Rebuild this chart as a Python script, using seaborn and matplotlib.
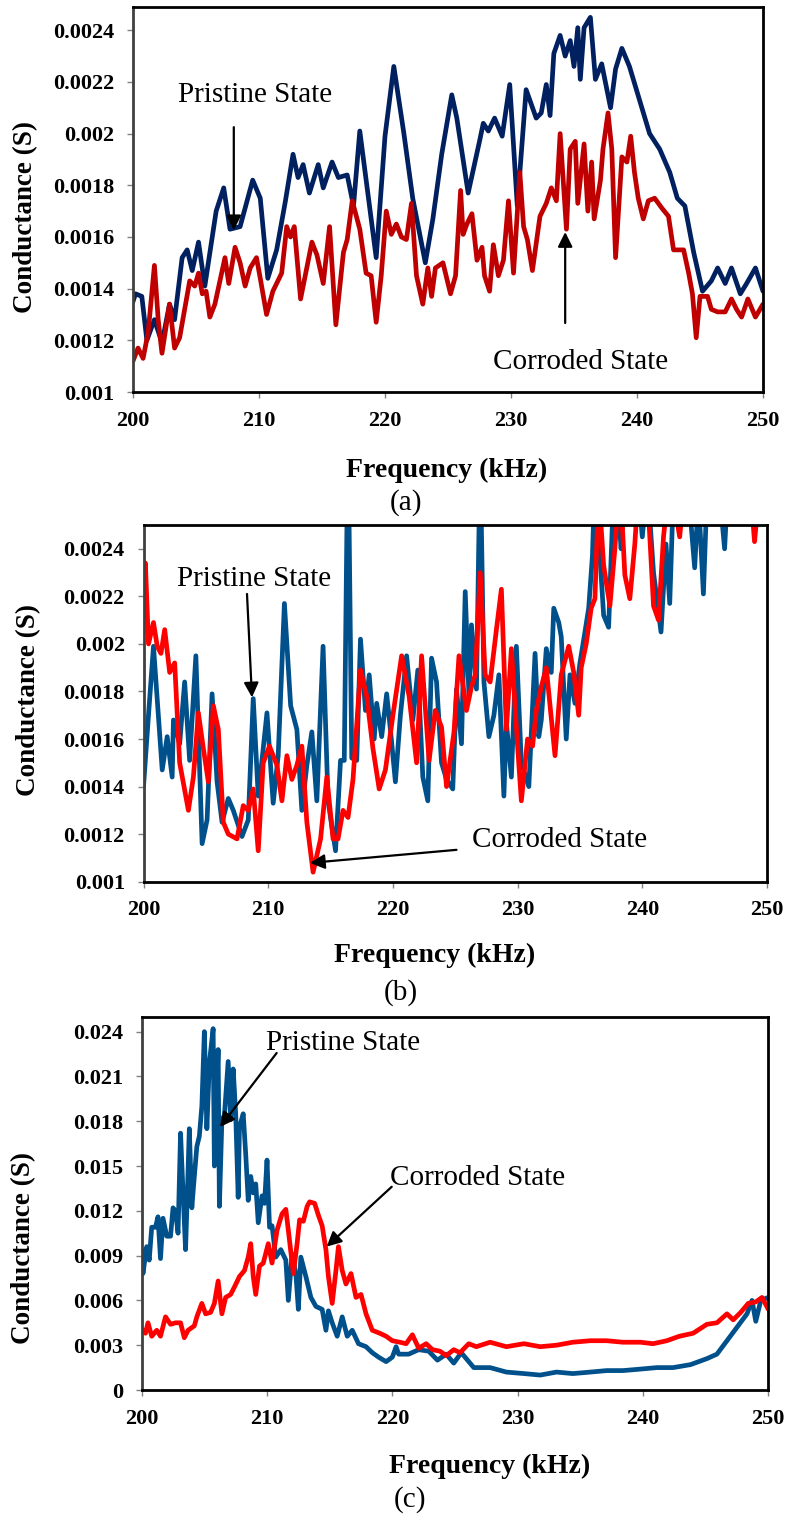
import numpy as np
import pandas as pd
import matplotlib
matplotlib.use("Agg")
import matplotlib.pyplot as plt
import seaborn as sns

# ---- (a) ----
a_pristine_f = [200.0, 200.2, 200.7, 201.1, 201.7, 202.3, 202.9, 203.3, 203.9, 204.3,
                204.7, 205.2, 205.7, 206.6, 207.2, 207.7, 208.5, 209.5, 210.1, 210.7,
                211.4, 212.1, 212.7, 213.1, 213.5, 214.0, 214.7, 215.1, 215.8, 216.3,
                217.0, 217.5, 218.0, 219.3, 220.0, 220.7, 221.5, 222.2, 223.2, 223.8,
                224.5, 225.3, 225.7, 226.6, 227.5, 227.8, 228.2, 228.7, 229.3, 229.9,
                230.5, 231.2, 232.0, 232.4, 232.8, 233.1, 233.4, 233.9, 234.3, 234.7,
                235.0, 235.3, 235.5, 235.8, 236.3, 236.7, 237.2, 237.9, 238.3, 238.8,
                239.4, 240.2, 241.0, 241.8, 242.6, 243.2, 243.8, 244.5, 245.2, 245.9,
                246.4, 247.0, 247.5, 248.2, 248.7, 249.4, 250.0]
a_pristine_g = [0.00135, 0.00138, 0.00137, 0.00120, 0.00128, 0.00119, 0.00134, 0.00128, 0.00152, 0.00155,
                0.00147, 0.00158, 0.00141, 0.00170, 0.00179, 0.00163, 0.00164, 0.00182, 0.00175, 0.00144,
                0.00155, 0.00174, 0.00192, 0.00183, 0.00188, 0.00177, 0.00188, 0.00179, 0.00189, 0.00183,
                0.00184, 0.00172, 0.00201, 0.00152, 0.00199, 0.00226, 0.00200, 0.00175, 0.00150, 0.00167,
                0.00192, 0.00215, 0.00206, 0.00177, 0.00197, 0.00204, 0.00201, 0.00206, 0.00199, 0.00219,
                0.00172, 0.00217, 0.00206, 0.00208, 0.00219, 0.00207, 0.00231, 0.00238, 0.00230, 0.00236,
                0.00226, 0.00241, 0.00221, 0.00241, 0.00245, 0.00221, 0.00227, 0.00210, 0.00225, 0.00233,
                0.00226, 0.00213, 0.00200, 0.00194, 0.00185, 0.00175, 0.00172, 0.00154, 0.00139, 0.00143,
                0.00148, 0.00142, 0.00148, 0.00138, 0.00142, 0.00148, 0.00139]
a_corroded_f = [200.0, 200.4, 200.8, 201.2, 201.7, 202.0, 202.3, 202.9, 203.3, 203.7,
                204.1, 204.5, 204.9, 205.2, 205.5, 205.8, 206.1, 206.5, 206.9, 207.3,
                207.6, 208.1, 208.5, 208.9, 209.3, 209.8, 210.1, 210.6, 211.1, 211.8,
                212.2, 212.5, 212.8, 213.3, 214.2, 214.6, 215.1, 215.6, 216.1, 216.7,
                217.0, 217.4, 218.0, 218.5, 218.9, 219.3, 219.7, 220.1, 220.5, 220.9,
                221.3, 221.7, 222.1, 222.5, 223.0, 223.4, 223.7, 224.0, 224.6, 225.2,
                225.6, 226.0, 226.2, 226.5, 226.9, 227.3, 227.7, 227.9, 228.3, 228.6,
                229.0, 229.4, 229.8, 230.2, 230.7, 231.0, 231.3, 231.7, 232.3, 232.8,
                233.2, 233.6, 233.9, 234.4, 234.7, 235.1, 235.3, 235.8, 236.1, 236.4,
                236.6, 237.1, 237.3, 237.7, 238.0, 238.3, 238.8, 239.2, 239.5, 239.8,
                240.1, 240.5, 240.9, 241.4, 242.0, 242.5, 242.9, 243.7, 244.1, 244.4,
                244.7, 245.0, 245.6, 245.9, 246.4, 247.0, 247.5, 247.9, 248.3, 248.8,
                249.4, 250.0]
a_corroded_g = [0.00112, 0.00117, 0.00113, 0.00123, 0.00149, 0.00128, 0.00115, 0.00134, 0.00117, 0.00121,
                0.00132, 0.00143, 0.00141, 0.00146, 0.00138, 0.00139, 0.00129, 0.00134, 0.00143, 0.00152,
                0.00142, 0.00156, 0.00150, 0.00141, 0.00148, 0.00152, 0.00144, 0.00130, 0.00139, 0.00146,
                0.00164, 0.00160, 0.00164, 0.00136, 0.00158, 0.00153, 0.00142, 0.00164, 0.00126, 0.00154,
                0.00159, 0.00174, 0.00163, 0.00146, 0.00145, 0.00127, 0.00145, 0.00170, 0.00161, 0.00165,
                0.00160, 0.00159, 0.00173, 0.00145, 0.00134, 0.00148, 0.00137, 0.00148, 0.00150, 0.00138,
                0.00145, 0.00178, 0.00161, 0.00165, 0.00169, 0.00151, 0.00156, 0.00145, 0.00139, 0.00157,
                0.00145, 0.00151, 0.00174, 0.00146, 0.00185, 0.00164, 0.00159, 0.00147, 0.00168, 0.00173,
                0.00179, 0.00174, 0.00200, 0.00163, 0.00194, 0.00197, 0.00173, 0.00196, 0.00170, 0.00189,
                0.00167, 0.00182, 0.00194, 0.00208, 0.00194, 0.00152, 0.00191, 0.00189, 0.00199, 0.00185,
                0.00175, 0.00167, 0.00174, 0.00175, 0.00171, 0.00168, 0.00155, 0.00155, 0.00146, 0.00138,
                0.00121, 0.00137, 0.00137, 0.00132, 0.00131, 0.00131, 0.00136, 0.00132, 0.00129, 0.00136,
                0.00129, 0.00134]

# ---- (b) ----
b_pristine_f = [200.0, 200.4, 200.8, 201.5, 201.9, 202.3, 202.4, 202.9, 203.3, 203.7,
                204.2, 204.7, 205.1, 205.5, 205.9, 206.3, 206.8, 207.2, 207.9, 208.4,
                208.8, 209.2, 209.9, 210.4, 210.8, 211.3, 211.8, 212.3, 212.7, 213.1,
                213.5, 213.9, 214.4, 214.8, 215.4, 215.8, 216.1, 216.4, 216.7, 217.1,
                217.4, 217.8, 218.1, 218.5, 218.7, 219.1, 219.5, 219.8, 220.2, 220.6,
                221.1, 221.6, 222.0, 222.4, 222.8, 223.1, 223.5, 223.9, 224.3, 224.8,
                225.1, 225.5, 225.8, 226.1, 226.3, 226.7, 227.0, 227.3, 227.7, 228.1,
                228.5, 228.9, 229.1, 229.5, 229.9, 230.3, 230.9, 231.4, 231.7, 231.9,
                232.3, 232.7, 232.9, 233.3, 233.5, 233.9, 234.2, 234.6, 235.0, 235.4,
                235.7, 236.0, 236.2, 236.6, 236.9, 237.3, 237.7, 238.1, 238.3, 238.6,
                239.0, 239.5, 240.0, 240.4, 240.9, 241.5, 241.9, 242.2, 242.5, 243.0,
                243.6, 244.2, 244.5, 244.9, 245.2, 246.0, 246.6, 246.9, 247.8, 248.6,
                249.3, 250.0]
b_pristine_g = [0.00140, 0.00170, 0.00199, 0.00147, 0.00161, 0.00144, 0.00168, 0.00158, 0.00184, 0.00151,
                0.00195, 0.00116, 0.00126, 0.00179, 0.00142, 0.00125, 0.00135, 0.00130, 0.00119, 0.00126,
                0.00177, 0.00136, 0.00171, 0.00133, 0.00153, 0.00217, 0.00174, 0.00164, 0.00130, 0.00149,
                0.00163, 0.00134, 0.00199, 0.00134, 0.00113, 0.00151, 0.00151, 0.00290, 0.00152, 0.00151,
                0.00202, 0.00172, 0.00187, 0.00160, 0.00175, 0.00161, 0.00179, 0.00164, 0.00142, 0.00170,
                0.00195, 0.00168, 0.00189, 0.00144, 0.00134, 0.00194, 0.00184, 0.00150, 0.00143, 0.00139,
                0.00181, 0.00158, 0.00222, 0.00178, 0.00208, 0.00181, 0.00280, 0.00184, 0.00161, 0.00170,
                0.00187, 0.00136, 0.00167, 0.00144, 0.00199, 0.00150, 0.00140, 0.00196, 0.00161, 0.00168,
                0.00198, 0.00188, 0.00215, 0.00209, 0.00203, 0.00160, 0.00187, 0.00175, 0.00192, 0.00205,
                0.00215, 0.00237, 0.00270, 0.00237, 0.00212, 0.00207, 0.00265, 0.00255, 0.00240, 0.00270,
                0.00260, 0.00275, 0.00245, 0.00268, 0.00230, 0.00205, 0.00242, 0.00217, 0.00265, 0.00280,
                0.00270, 0.00232, 0.00262, 0.00221, 0.00265, 0.00275, 0.00240, 0.00270, 0.00280, 0.00275,
                0.00285, 0.00280]
b_corroded_f = [200.0, 200.15, 200.4, 200.8, 201.1, 201.4, 201.7, 202.1, 202.5, 202.9,
                203.6, 204.0, 204.4, 204.8, 205.2, 205.6, 206.0, 206.4, 206.8, 207.5,
                208.0, 208.4, 208.8, 209.2, 209.6, 210.1, 210.7, 211.1, 211.5, 211.9,
                212.3, 212.7, 213.1, 213.6, 214.2, 214.7, 215.2, 215.6, 216.0, 216.4,
                216.8, 217.4, 217.9, 218.4, 218.9, 219.4, 220.0, 220.7, 221.3, 221.9,
                222.3, 222.9, 223.4, 223.9, 224.3, 224.9, 225.3, 225.9, 226.3, 226.6,
                227.0, 227.4, 227.8, 228.3, 228.7, 229.1, 229.5, 230.0, 230.3, 230.8,
                231.2, 231.5, 231.9, 232.3, 233.0, 233.5, 234.1, 234.5, 234.9, 235.1,
                235.5, 235.9, 236.2, 236.5, 236.9, 237.4, 237.8, 238.2, 238.6, 239.0,
                239.4, 239.8, 240.5, 240.9, 241.3, 241.7, 242.2, 243.0, 243.5, 244.5,
                245.5, 246.4, 247.2, 248.0, 248.6, 249.0, 249.3, 250.0]
b_corroded_g = [0.00225, 0.00234, 0.00200, 0.00209, 0.00199, 0.00196, 0.00206, 0.00188, 0.00192, 0.00150,
                0.00130, 0.00144, 0.00171, 0.00156, 0.00142, 0.00174, 0.00164, 0.00125, 0.00120, 0.00118,
                0.00132, 0.00130, 0.00139, 0.00113, 0.00150, 0.00157, 0.00149, 0.00134, 0.00153, 0.00143,
                0.00149, 0.00157, 0.00125, 0.00104, 0.00118, 0.00144, 0.00118, 0.00118, 0.00130, 0.00127,
                0.00143, 0.00189, 0.00178, 0.00156, 0.00139, 0.00147, 0.00170, 0.00195, 0.00178, 0.00150,
                0.00195, 0.00151, 0.00172, 0.00165, 0.00140, 0.00163, 0.00195, 0.00172, 0.00182, 0.00187,
                0.00230, 0.00187, 0.00184, 0.00206, 0.00223, 0.00164, 0.00198, 0.00157, 0.00134, 0.00160,
                0.00157, 0.00172, 0.00182, 0.00190, 0.00153, 0.00187, 0.00199, 0.00188, 0.00170, 0.00190,
                0.00200, 0.00215, 0.00219, 0.00265, 0.00233, 0.00216, 0.00240, 0.00270, 0.00229, 0.00219,
                0.00242, 0.00275, 0.00255, 0.00216, 0.00210, 0.00245, 0.00270, 0.00245, 0.00275, 0.00290,
                0.00285, 0.00265, 0.00280, 0.00255, 0.00270, 0.00243, 0.00260, 0.00270]

# ---- (c) ----
c_pristine_f = [200.0, 200.1, 200.4, 200.6, 200.8, 201.1, 201.3, 201.5, 201.7, 202.0,
                202.3, 202.5, 202.7, 202.9, 203.1, 203.3, 203.5, 203.7, 203.8, 204.0,
                204.2, 204.4, 204.6, 204.8, 205.0, 205.2, 205.4, 205.7, 205.8, 205.9,
                206.1, 206.2, 206.4, 206.6, 206.9, 207.1, 207.3, 207.5, 207.7, 207.8,
                208.1, 208.3, 208.5, 208.7, 208.9, 209.1, 209.3, 209.6, 209.8, 210.0,
                210.2, 210.4, 210.7, 211.1, 211.5, 211.7, 212.0, 212.3, 212.5, 212.7,
                213.1, 213.5, 213.9, 214.4, 214.7, 214.9, 215.2, 215.6, 216.0, 216.4,
                216.8, 217.3, 217.9, 218.4, 218.9, 219.5, 220.0, 220.3, 220.5, 221.3,
                222.1, 222.9, 223.6, 224.3, 224.9, 225.5, 226.5, 227.8, 229.1, 230.5,
                231.8, 233.1, 234.4, 235.8, 237.1, 238.4, 239.8, 241.1, 242.4, 243.8,
                245.1, 245.9, 246.7, 247.5, 248.3, 248.7, 249.0, 249.4, 250.0]
c_pristine_g = [0.0094, 0.0078, 0.0096, 0.0087, 0.0109, 0.0109, 0.0116, 0.0088, 0.0115, 0.0103,
                0.0103, 0.0122, 0.0120, 0.0105, 0.0172, 0.0132, 0.0094, 0.0147, 0.0175, 0.0122,
                0.0143, 0.0163, 0.0170, 0.0190, 0.0240, 0.0175, 0.0219, 0.0242, 0.0150, 0.0181,
                0.0228, 0.0123, 0.0181, 0.0184, 0.0220, 0.0181, 0.0215, 0.0185, 0.0129, 0.0176,
                0.0185, 0.0158, 0.0127, 0.0143, 0.0132, 0.0138, 0.0112, 0.0130, 0.0125, 0.0154,
                0.0109, 0.0110, 0.0089, 0.0094, 0.0087, 0.0060, 0.0091, 0.0078, 0.0054, 0.0089,
                0.0076, 0.0062, 0.0056, 0.0054, 0.0040, 0.0053, 0.0045, 0.0036, 0.0049, 0.0036,
                0.0040, 0.0031, 0.0029, 0.0025, 0.0022, 0.0019, 0.0022, 0.0029, 0.0024, 0.0024,
                0.0027, 0.0026, 0.0020, 0.0024, 0.0018, 0.0025, 0.0015, 0.0015, 0.0012, 0.0011,
                0.0010, 0.0012, 0.0011, 0.0012, 0.0013, 0.0013, 0.0014, 0.0015, 0.0015, 0.0017,
                0.0021, 0.0024, 0.0033, 0.0042, 0.0051, 0.0060, 0.0046, 0.0060, 0.0062]
c_corroded_f = [200.0, 200.3, 200.5, 200.8, 201.2, 201.5, 201.9, 202.3, 202.7, 203.1,
                203.4, 203.7, 204.2, 204.4, 204.8, 205.1, 205.5, 205.8, 206.1, 206.4,
                206.7, 207.1, 207.4, 207.8, 208.2, 208.5, 208.7, 208.9, 209.1, 209.4,
                209.7, 210.1, 210.4, 210.8, 211.2, 211.5, 211.7, 212.1, 212.4, 212.6,
                212.9, 213.2, 213.4, 213.8, 214.1, 214.4, 214.7, 214.9, 215.2, 215.5,
                215.7, 216.0, 216.3, 216.7, 217.1, 217.5, 217.9, 218.4, 219.0, 219.5,
                220.0, 220.6, 221.1, 221.6, 222.1, 222.7, 223.2, 223.8, 224.3, 224.9,
                225.4, 226.1, 226.7, 227.8, 229.1, 230.5, 231.8, 233.1, 234.4, 235.8,
                237.1, 238.4, 239.8, 240.8, 241.9, 242.9, 244.0, 245.1, 245.9, 246.7,
                247.2, 247.8, 248.4, 249.0, 249.5, 250.0]
c_corroded_g = [0.0041, 0.0038, 0.0045, 0.0036, 0.0040, 0.0036, 0.0049, 0.0044, 0.0045, 0.0045,
                0.0035, 0.0040, 0.0043, 0.0049, 0.0058, 0.0051, 0.0052, 0.0058, 0.0073, 0.0051,
                0.0062, 0.0064, 0.0069, 0.0076, 0.0080, 0.0089, 0.0098, 0.0076, 0.0064, 0.0083,
                0.0085, 0.0098, 0.0085, 0.0107, 0.0118, 0.0121, 0.0107, 0.0078, 0.0098, 0.0114,
                0.0113, 0.0123, 0.0126, 0.0125, 0.0117, 0.0110, 0.0094, 0.0076, 0.0058, 0.0080,
                0.0096, 0.0080, 0.0071, 0.0078, 0.0062, 0.0064, 0.0051, 0.0040, 0.0038, 0.0036,
                0.0033, 0.0032, 0.0031, 0.0037, 0.0028, 0.0031, 0.0027, 0.0026, 0.0023, 0.0027,
                0.0025, 0.0031, 0.0029, 0.0032, 0.0029, 0.0031, 0.0029, 0.0030, 0.0032, 0.0033,
                0.0033, 0.0032, 0.0032, 0.0031, 0.0033, 0.0036, 0.0038, 0.0044, 0.0045, 0.0051,
                0.0047, 0.0052, 0.0058, 0.0059, 0.0062, 0.0054]

freq_ticks = [200, 210, 220, 230, 240, 250]
ab_ticks = [0.001, 0.0012, 0.0014, 0.0016, 0.0018, 0.002, 0.0022, 0.0024]
c_ticks = [0, 0.003, 0.006, 0.009, 0.012, 0.015, 0.018, 0.021, 0.024]

sns.set_theme(style="white")
plt.rcParams['font.family'] = ['Liberation Serif', 'DejaVu Serif']
plt.rcParams['text.color'] = 'black'
plt.rcParams['axes.labelcolor'] = 'black'
plt.rcParams['xtick.labelcolor'] = 'black'
plt.rcParams['ytick.labelcolor'] = 'black'

W, H = 790, 1516
fig = plt.figure(figsize=(W / 100, H / 100), dpi=100)
fig.patch.set_facecolor("white")


def long_df(pf, pg, cf, cg):
    d1 = pd.DataFrame({"freq": pf, "g": pg, "state": "Pristine State"})
    d2 = pd.DataFrame({"freq": cf, "g": cg, "state": "Corroded State"})
    return pd.concat([d1, d2], ignore_index=True)


def make_panel(rect_px, df, colors, ylim, yticks, ylab_xy, xlab_xy, tag, tag_xy, notes):
    l, t, r, b = rect_px
    ax = fig.add_axes([l / W, 1 - b / H, (r - l) / W, (b - t) / H])
    sns.lineplot(data=df, x="freq", y="g", hue="state", palette=colors,
                 hue_order=["Pristine State", "Corroded State"],
                 estimator=None, sort=False, legend=False, ax=ax)
    for ln in ax.lines:
        ln.set_linewidth(3.4)
        ln.set_solid_joinstyle("round")
        ln.set_solid_capstyle("round")
    ax.set_xlim(200, 250)
    ax.set_ylim(*ylim)
    ax.set_xticks(freq_ticks, labels=[str(v) for v in freq_ticks],
                  fontweight="bold", fontsize=16)
    ax.set_yticks(yticks, labels=[f"{v:g}" for v in yticks],
                  fontweight="bold", fontsize=16)
    ax.tick_params(axis="both", direction="out", length=4.5, width=1,
                   color="#808080", pad=9, bottom=True, left=True)
    for s in ax.spines.values():
        s.set_color("black")
        s.set_linewidth(2)
    ax.spines["left"].set_color("#404040")
    ax.set_xlabel("Frequency (kHz)", fontsize=20, fontweight="bold", va="center")
    ax.xaxis.set_label_coords(*xlab_xy)
    ax.set_ylabel("Conductance (S)", fontsize=19.5, fontweight="bold", va="center")
    ax.yaxis.set_label_coords(*ylab_xy)
    fig.text(tag_xy[0] / W, 1 - tag_xy[1] / H, tag, fontsize=21,
             ha="center", va="center")
    for label, txy, start, tip in notes:
        ax.text(txy[0], txy[1], label, fontsize=21, ha="center", va="center")
        ax.annotate("", xy=tip, xytext=start,
                    arrowprops=dict(arrowstyle="-|>", color="black", lw=1.6,
                                    mutation_scale=22, shrinkA=0, shrinkB=0))
    return ax


df_a = long_df(a_pristine_f, a_pristine_g, a_corroded_f, a_corroded_g)
df_b = long_df(b_pristine_f, b_pristine_g, b_corroded_f, b_corroded_g)
df_c = long_df(c_pristine_f, c_pristine_g, c_corroded_f, c_corroded_g)

make_panel((133, 7, 763, 392), df_a,
           {"Pristine State": "#002060", "Corroded State": "#C00000"},
           (0.001, 0.00249), ab_ticks, (-0.170, 0.455), (0.498, -0.2026),
           "(a)", (406, 503),
           [("Pristine State", (209.7, 0.002148), (208.0, 0.002025), (208.0, 0.001626)),
            ("Corroded State", (235.5, 0.001116), (234.3, 0.001267), (234.3, 0.001619))])

make_panel((143.5, 525, 767, 881.7), df_b,
           {"Pristine State": "#00508C", "Corroded State": "#FF0000"},
           (0.001, 0.0025), ab_ticks, (-0.185, 0.509), (0.4675, -0.2055),
           "(b)", (401, 993),
           [("Pristine State", (208.9, 0.002273), (208.3, 0.00221), (208.7, 0.001775)),
            ("Corroded State", (233.4, 0.001176), (225.1, 0.001134), (213.35, 0.001079))])

make_panel((141.7, 1016.7, 768.3, 1390), df_c,
           {"Pristine State": "#00508C", "Corroded State": "#FF0000"},
           (0, 0.025), c_ticks, (-0.189, 0.38), (0.556, -0.2036),
           "(c)", (410, 1500),
           [("Pristine State", (216.07, 0.02323), (210.77, 0.02257), (206.25, 0.01761)),
            ("Corroded State", (226.84, 0.0142), (219.95, 0.01361), (214.76, 0.0096))])

fig.savefig("out.png", dpi=100, facecolor="white")
